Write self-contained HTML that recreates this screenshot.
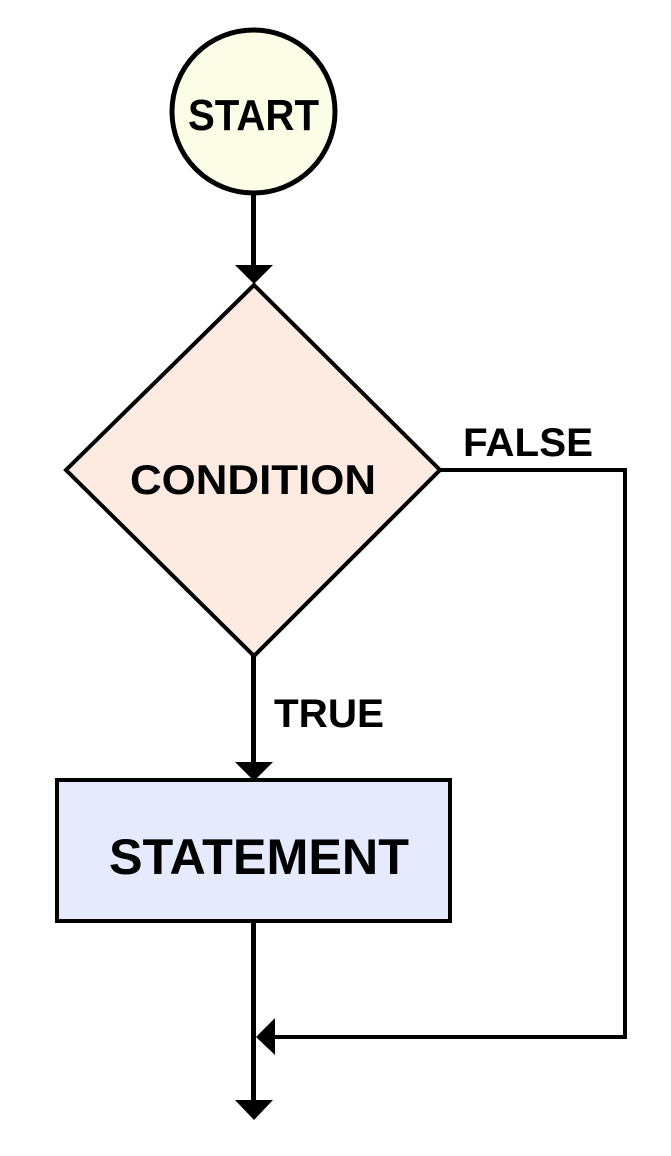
<!DOCTYPE html>
<html><head><style>body{margin:0;background:#fff}svg{display:block}</style></head>
<body>
<svg width="671" height="1156" viewBox="0 0 671 1156" xmlns="http://www.w3.org/2000/svg" font-family="Liberation Sans, sans-serif" font-weight="bold">
<circle cx="253.5" cy="111.5" r="81.5" fill="#fbfde6" stroke="#000" stroke-width="5"/>
<text x="253.5" y="130" font-size="44" text-anchor="middle" textLength="131" lengthAdjust="spacingAndGlyphs">START</text>
<line x1="253.5" y1="194" x2="253.5" y2="268" stroke="#000" stroke-width="5"/>
<polygon points="235,265 273,265 254,284" fill="#000"/>
<polygon points="254,285 440,470 254,656 66,470" fill="#fdebe2" stroke="#000" stroke-width="4"/>
<text x="253" y="494" font-size="42" text-anchor="middle" textLength="246" lengthAdjust="spacingAndGlyphs">CONDITION</text>
<line x1="253.5" y1="656" x2="253.5" y2="765" stroke="#000" stroke-width="5"/>
<polygon points="235,762 273,762 254,781" fill="#000"/>
<text x="274" y="727" font-size="40" textLength="110" lengthAdjust="spacingAndGlyphs">TRUE</text>
<rect x="57" y="780" width="393" height="141" fill="#e5ebfd" stroke="#000" stroke-width="4"/>
<text x="259" y="874" font-size="50" text-anchor="middle" textLength="300" lengthAdjust="spacingAndGlyphs">STATEMENT</text>
<line x1="253.5" y1="921" x2="253.5" y2="1104" stroke="#000" stroke-width="5"/>
<polygon points="235,1100 273,1100 254,1120" fill="#000"/>
<polyline points="440,470 625,470 625,1037 270,1037" fill="none" stroke="#000" stroke-width="4"/>
<polygon points="275,1018 275,1055 256,1037" fill="#000"/>
<text x="463" y="456" font-size="40" textLength="130" lengthAdjust="spacingAndGlyphs">FALSE</text>
</svg>
</body></html>
